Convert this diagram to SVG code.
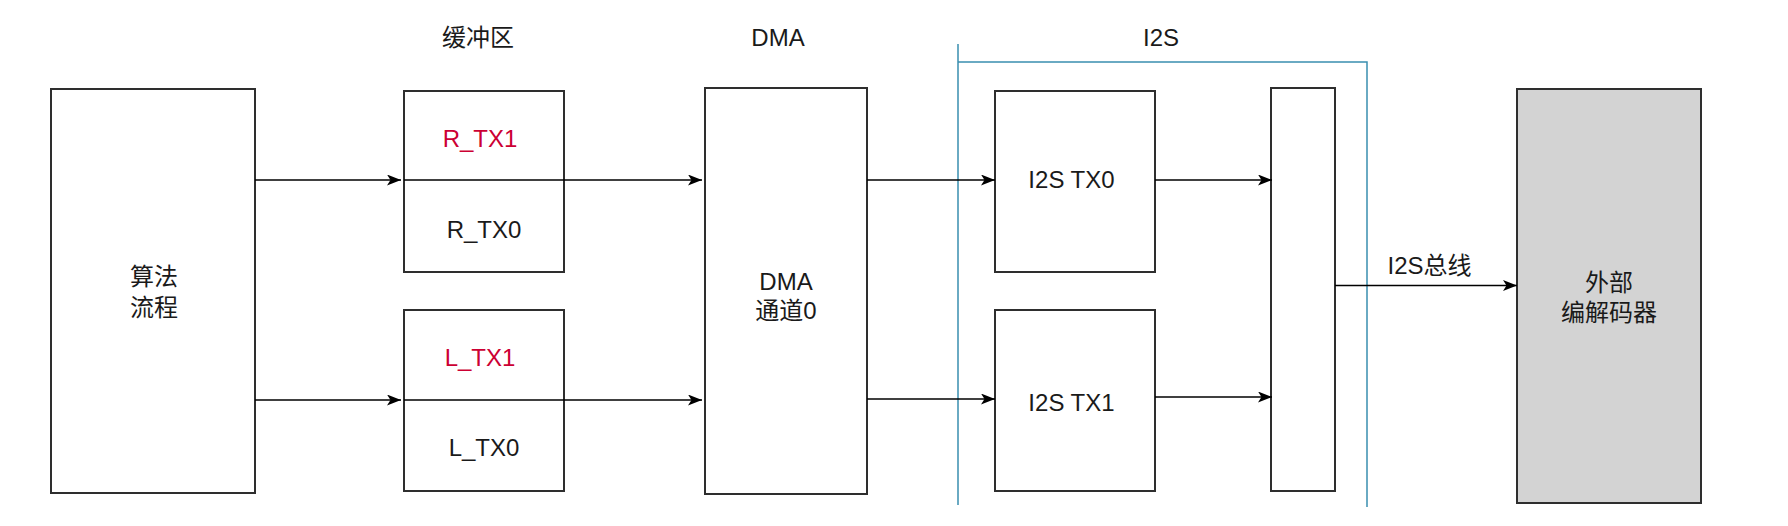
<svg xmlns="http://www.w3.org/2000/svg" width="1788" height="526" viewBox="0 0 1788 526">
<defs>
<marker id="arr" markerUnits="userSpaceOnUse" markerWidth="15" markerHeight="12" refX="14" refY="5.5" orient="auto">
<path d="M0,0 L14,5.5 L0,11 L3.5,5.5 Z" fill="#000"/>
</marker>
<style>
.box{fill:#fff;stroke:#2e2e2e;stroke-width:2}
.gray{fill:#d3d3d3;stroke:#2e2e2e;stroke-width:2}
.t{font-family:"Liberation Sans","Noto Sans CJK SC",sans-serif;font-size:24px;fill:#1a1a1a;text-anchor:middle}
.red{fill:#cc0033}
.edge{fill:none;stroke:#000;stroke-width:1.3;marker-end:url(#arr)}
.grp{fill:none;stroke:#3a8fb0;stroke-width:1.5}
</style>
</defs>
<rect width="1788" height="526" fill="#fff"/>

<g id="headers">
<text class="t" x="478" y="46">缓冲区</text>
<text class="t" x="778" y="46">DMA</text>
</g>

<g id="i2s-group">
<path class="grp" d="M958,44 V505 M958,62 H1367 V507"/>
<text class="t" x="1161" y="46">I2S</text>
</g>

<g id="algo">
<rect class="box" x="51" y="89" width="204" height="404"/>
<text class="t" x="154" y="285">算法</text>
<text class="t" x="154" y="316">流程</text>
</g>

<g id="rbuf">
<rect class="box" x="404" y="91" width="160" height="181"/>
<text class="t red" x="480" y="147">R_TX1</text>
<text class="t" x="484" y="237.5">R_TX0</text>
</g>

<g id="lbuf">
<rect class="box" x="404" y="310" width="160" height="181"/>
<text class="t red" x="480" y="365.5">L_TX1</text>
<text class="t" x="484" y="455.5">L_TX0</text>
</g>

<g id="dma">
<rect class="box" x="705" y="88" width="162" height="406"/>
<text class="t" x="786" y="290">DMA</text>
<text class="t" x="786" y="319">通道0</text>
</g>

<g id="tx0">
<rect class="box" x="995" y="91" width="160" height="181"/>
<text class="t" x="1071.5" y="188">I2S TX0</text>
</g>

<g id="tx1">
<rect class="box" x="995" y="310" width="160" height="181"/>
<text class="t" x="1071.5" y="410.5">I2S TX1</text>
</g>

<g id="bar">
<rect class="box" x="1271" y="88" width="64" height="403"/>
</g>

<g id="codec">
<rect class="gray" x="1517" y="89" width="184" height="414"/>
<text class="t" x="1609" y="291">外部</text>
<text class="t" x="1609" y="321">编解码器</text>
</g>

<g id="connectors">
<path class="edge" d="M255,180 H401"/>
<path class="edge" d="M404,180 H702"/>
<path class="edge" d="M255,400 H401"/>
<path class="edge" d="M404,400 H702"/>
<path class="edge" d="M867,180 H995"/>
<path class="edge" d="M867,399 H995"/>
<path class="edge" d="M1155,180 H1272"/>
<path class="edge" d="M1155,397 H1272"/>
<path class="edge" d="M1335,285.5 H1517"/>
<text class="t" x="1429.5" y="274">I2S总线</text>
</g>
</svg>
